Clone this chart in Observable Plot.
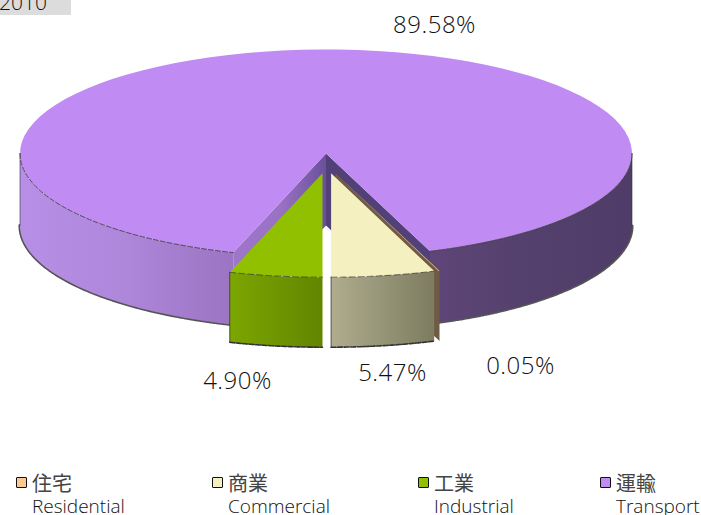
<!DOCTYPE html>
<html><head><meta charset="utf-8">
<script src="https://cdn.jsdelivr.net/npm/d3@7"></script>
<script src="https://cdn.jsdelivr.net/npm/@observablehq/plot@0.6"></script>
<style>
html,body{margin:0;padding:0;background:#fff}
#page{position:relative;width:701px;height:515px;overflow:hidden;font-family:"Open Sans","Noto Sans CJK KR",sans-serif;color:#222}
#page svg{display:block}
#chart svg text{letter-spacing:.5px}
#year{position:absolute;left:0;top:0;width:71px;height:15px;background:#dcdcdc;overflow:hidden}
#year span{position:absolute;left:-1px;top:-13px;font-size:21px;line-height:30px;font-weight:300;color:#111}
.sw{position:absolute;width:9px;height:9px;border:1.5px solid #111;border-radius:1px;top:477px}
.zh,.en{position:absolute;white-space:nowrap}
.zh{top:473px;font-family:"Noto Sans CJK KR",sans-serif;font-size:20px;line-height:20px;color:#444}
.en{top:497px;font-size:19px;line-height:18px;font-weight:300;color:#111}
</style></head><body>
<div id="page"><div id="chart"></div><div id="year"><span>2010</span></div><div id="legend"></div></div>
<script>
const year = "2010";
const namesZh = ["住宅", "商業", "工業", "運輸"];
const namesEn = ["Residential", "Commercial", "Industrial", "Transport"];
const shares = [0.05, 5.47, 4.90, 89.58];
const colors = ["#ffc890", "#f4f0c0", "#90c000", "#c08cf4"];

// page geometry of the tilted disc
const cx = 325.5, cy = 153, rx = 306, ry = 104, depth = 72 / ry;
const ux = px => (px - cx) / rx, uy = py => (py - cy) / ry;

// angles run counter-clockwise from the front of the disc
const order = [1, 0, 3, 2];
const arcs = d3.pie().sort(null).value(i => shares[i]).startAngle(0).endAngle(2 * Math.PI)(order);
const arcOf = i => arcs.find(a => a.data === i);
const [RES, COM, IND, TRA] = [0, 1, 2, 3];
const rim = (t, ox = 0, oy = 0) => ({x: ox + Math.sin(t), y: oy + Math.cos(t)});
const arcPts = (a, b, ox = 0, oy = 0) => d3.range(0, 91).map(k => rim(a + (b - a) * k / 90, ox, oy));
const drop = (pts, d = depth) => pts.map(p => ({x: p.x, y: p.y + d}));
const poly = (pts, fill) => Plot.line(pts, {x: "x", y: "y", fill, stroke: "none"});
const edge = (pts, o) => Plot.line(pts, {x: "x", y: "y", stroke: "#333", strokeWidth: 0.8, ...o});
const band = (a, b, ox, oy, d) => { const p = arcPts(a, b, ox, oy); return p.concat(drop(p, d).reverse()); };

const gradient = (id, stops) => () => {
  const g = d3.create("svg:linearGradient").attr("id", id);
  stops.forEach((c, i) => g.append("stop").attr("offset", i / (stops.length - 1)).attr("stop-color", c));
  const defs = d3.create("svg:defs"); defs.append(() => g.node());
  return defs.node();
};

const T = arcOf(TRA), C = arcOf(COM), R = arcOf(RES), I = arcOf(IND);
const P = Math.PI;
const dyEx = uy(172.7);
const offC = ux(330.6), offI = ux(322), offR = ux(335);
const dS = 70 / ry;

const wedge = (a, ox, oy) => [{x: ox, y: oy}, ...arcPts(a.startAngle, a.endAngle, ox, oy)];
const wall = (t, ox, oy, d) => { const e = rim(t, ox, oy), s = {x: ox, y: oy}; return [s, e, {x: e.x, y: e.y + d}, {x: s.x, y: s.y + d}]; };
const rough = {strokeWidth: 3.2, strokeDasharray: "2.5 1", stroke: "#555"};

const labelPos = [
  {i: RES, x: ux(520), y: uy(366)},
  {i: COM, x: ux(392), y: uy(373)},
  {i: IND, x: ux(237), y: uy(381)},
  {i: TRA, x: ux(434), y: uy(25)}
];

const chart = Plot.plot({
  width: 701, height: 440, margin: 0, axis: null,
  x: {domain: [-1, 1], range: [cx - rx, cx + rx]},
  y: {domain: [-1, 1], range: [cy - ry, cy + ry]},
  marks: [
    gradient("gL", ["#b78fe6", "#ae86da", "#9b74c2"]),
    gradient("gR", ["#5e4678", "#54406c", "#503c68"]),
    gradient("gW", ["#9e76ca", "#9a72c4", "#6a509c"]),
    gradient("gG", ["#7ca600", "#628500"]),
    gradient("gC", ["#b0ad8e", "#7d7c60"]),
    // transport: sides, notch walls, top
    edge(drop(arcPts(T.startAngle, P / 2)), rough),
    edge(drop(arcPts(3 * P / 2, T.endAngle)), rough),
    poly(band(3 * P / 2, T.endAngle, 0, 0, depth), "url(#gL)"),
    poly(band(T.startAngle, P / 2, 0, 0, depth), "url(#gR)"),
    poly(wall(T.endAngle, 0, 0, depth), "url(#gW)"),
    poly(wall(T.startAngle, 0, 0, depth), "#524078"),
    poly([{x: 0, y: 0}, ...arcPts(T.startAngle, T.endAngle)], colors[TRA]),
    // residential sliver
    poly(wall(R.endAngle, offR, dyEx, dS), "#6f5a45"),
    poly(wedge(R, offR, dyEx), colors[RES]),
    // commercial
    poly(band(0, C.endAngle, offC, dyEx, dS), "url(#gC)"),
    poly(wedge(C, offC, dyEx), colors[COM]),
    // industrial
    poly(band(I.startAngle, 2 * P, offI, dyEx, dS), "url(#gG)"),
    poly(wedge(I, offI, dyEx), colors[IND]),
    // rough outlines
    edge(arcPts(T.startAngle, P / 2), {}),
    edge(arcPts(3 * P / 2, T.endAngle), {strokeDasharray: "5 2"}),
    edge([rim(P / 2), {...rim(P / 2), y: depth}], {strokeWidth: 0.6}),
    edge([rim(3 * P / 2), {...rim(3 * P / 2), y: depth}], {strokeWidth: 0.6}),
    edge(drop(arcPts(0, C.endAngle, offC, dyEx), dS), {strokeWidth: 1.6, strokeDasharray: "5 1.5"}),
    edge(drop(arcPts(I.startAngle, 2 * P, offI, dyEx), dS), {strokeWidth: 1.6, strokeDasharray: "5 1.5"}),
    edge(arcPts(0, C.endAngle, offC, dyEx), {strokeDasharray: "6 3", strokeWidth: 0.7}),
    edge(arcPts(I.startAngle, 2 * P, offI, dyEx), {strokeDasharray: "6 3", strokeWidth: 0.7}),
    edge(wall(0, offC, dyEx, dS).slice(1, 3), {strokeWidth: 0.8}),
    edge(wall(I.startAngle, offI, dyEx, dS).slice(1, 3), {strokeWidth: 0.8}),
    // percentage labels
    Plot.text(labelPos, {
      x: "x", y: "y", text: d => shares[d.i].toFixed(2) + "%",
      fontSize: 24, fontWeight: 300, fill: "#111", fontFamily: '"Open Sans","Noto Sans",sans-serif'
    })
  ]
});
document.getElementById("chart").append(chart);

const legendLeft = [16, 212, 418, 600];
const legend = d3.select("#legend");
namesZh.forEach((n, i) => {
  const l = legendLeft[i];
  legend.append("div").attr("class", "sw").style("left", l + "px").style("background", colors[i]);
  legend.append("div").attr("class", "zh").style("left", (l + 16) + "px").text(n);
  legend.append("div").attr("class", "en").style("left", (l + 16) + "px").text(namesEn[i]);
});
</script>
</body></html>
